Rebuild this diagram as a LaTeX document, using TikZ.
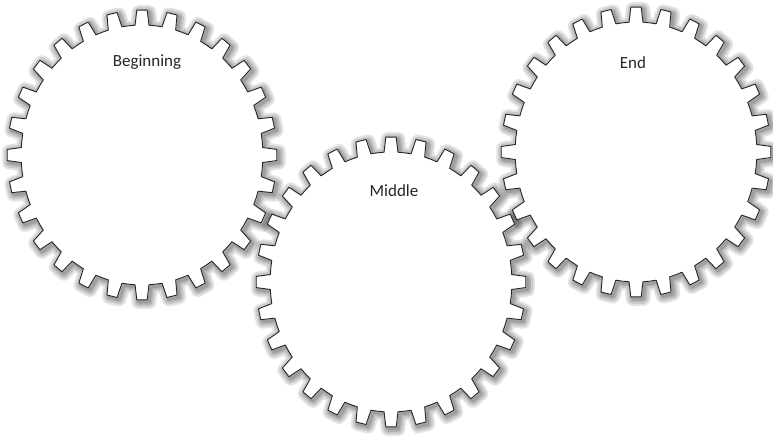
\documentclass[tikz,border=0pt]{standalone}
\usepackage{fontspec}
\setmainfont{Carlito}
\usepackage{tikz}
\usetikzlibrary{positioning, calc}
\tikzset{
    gearshadow/.style={draw=black, opacity=0.11, line join=round},
    gearfill/.style={fill=white},
    gearline/.style={draw=black!85, line width=0.9pt, line join=round},
    gearlabel/.style={font=\fontsize{17}{19}\selectfont, text=black!85},
}
\newcommand{\gearin}{130}
\newcommand{\gearout}{145}
\newcommand{\gearpath}{(-96.43:\gearin)
    \foreach \t [evaluate=\t as \c using \t*12.857-90] in {0,...,27}{
        -- ({\c-3.3}:\gearin) -- ({\c-2.2}:\gearout) -- ({\c+2.2}:\gearout)
        -- ({\c+3.3}:\gearin) -- ({\c+6.43}:\gearin)
    } -- cycle}

\begin{document}
\begin{tikzpicture}[x=1pt, y=-1pt]
\useasboundingbox[fill=white] (0,0) rectangle (773,436);

\coordinate (beginning) at (142,155);
\coordinate (middle) at (391,282);
\coordinate (end) at (636,152);

\foreach \g in {beginning, middle, end}{
    \begin{scope}[shift={($(\g)+(2,2)$)}, xscale=0.93]
        \foreach \w in {14,10,6,3}
            \draw[gearshadow, line width=\w pt] \gearpath;
    \end{scope}
}
\foreach \g in {beginning, middle, end}{
    \begin{scope}[shift={(\g)}, xscale=0.93]
        \path[gearfill] \gearpath;
    \end{scope}
}
\foreach \g in {beginning, middle, end}{
    \begin{scope}[shift={(\g)}, xscale=0.93]
        \path[gearline] \gearpath;
    \end{scope}
}

\node[gearlabel] (beginlabel) at (147,62) {Beginning};
\node[gearlabel] (middlelabel) at (394,191) {Middle};
\node[gearlabel] (endlabel) at (633,63) {End};
\end{tikzpicture}
\end{document}
